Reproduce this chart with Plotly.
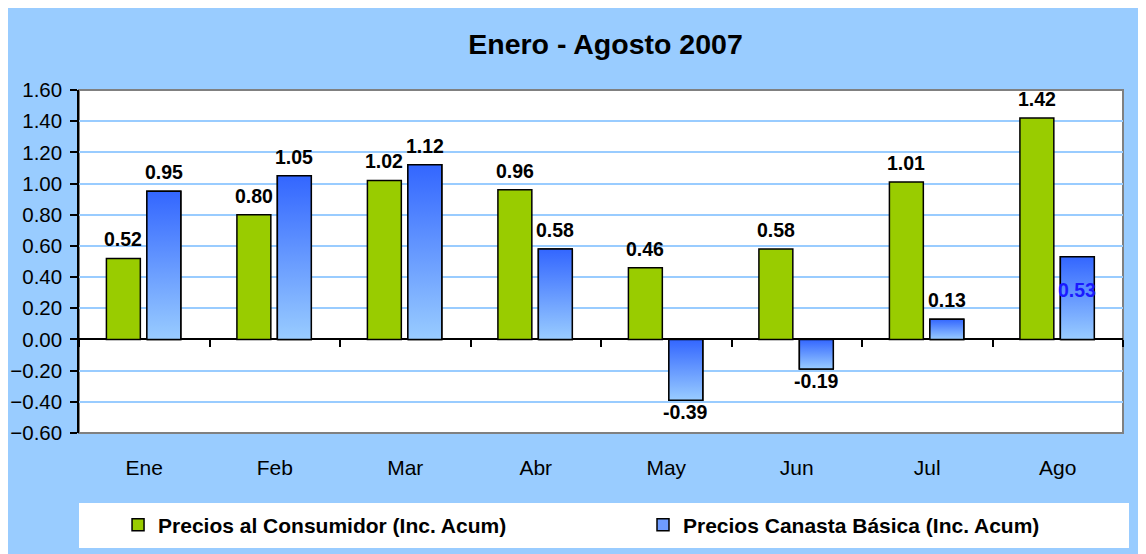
import plotly.graph_objects as go

months = ["Ene", "Feb", "Mar", "Abr", "May", "Jun", "Jul", "Ago"]
consumidor = [0.52, 0.80, 1.02, 0.96, 0.46, 0.58, 1.01, 1.42]
canasta = [0.95, 1.05, 1.12, 0.58, -0.39, -0.19, 0.13, 0.53]
name_consumidor = "Precios al Consumidor (Inc. Acum)"
name_canasta = "Precios Canasta Básica (Inc. Acum)"
title_text = "Enero - Agosto 2007"
y_ticks = [-0.6, -0.4, -0.2, 0.0, 0.2, 0.4, 0.6, 0.8, 1.0, 1.2, 1.4, 1.6]

FONT = "Liberation Sans, Arial, sans-serif"
GREEN = "#99CC00"
BLUE_DARK = "#3366FF"
BLUE_LIGHT = "#99CCFF"
BG = "#99CCFF"

W = 0.26
OFF_G = -0.29
OFF_B = 0.02

xs = list(range(len(months)))

fig = go.Figure()

fig.add_trace(go.Bar(
    x=xs, y=consumidor, name=name_consumidor, width=W, offset=OFF_G,
    marker=dict(color=GREEN, line=dict(color="black", width=1.5)),
    hoverinfo="skip", legend="legend",
))
fig.add_trace(go.Bar(
    x=xs, y=canasta, name=name_canasta, width=W, offset=OFF_B,
    marker=dict(color="#6F9CFF", line=dict(color="black", width=1.5)),
    hoverinfo="skip", legend="legend2",
))

# gradient fill for the blue bars, derived from the data
for i, v in zip(xs, canasta):
    x0, x1 = i + OFF_B, i + OFF_B + W
    fig.add_trace(go.Scatter(
        x=[x0, x1, x1, x0, x0], y=[0, 0, v, v, 0],
        mode="lines", fill="toself",
        fillgradient=dict(type="vertical",
                          colorscale=[[0, BLUE_LIGHT], [1, BLUE_DARK]]),
        line=dict(color="black", width=1.5),
        showlegend=False, hoverinfo="skip",
    ))

# data labels
annotations = []
for i, v in zip(xs, consumidor):
    annotations.append(dict(
        x=i + OFF_G + W / 2, y=v, xref="x", yref="y", text=f"{v:.2f}",
        showarrow=False, yanchor="middle", yshift=19 if v >= 0 else -14,
        font=dict(family=FONT, size=19.5, color="black", weight="bold")))
for k, (i, v) in enumerate(zip(xs, canasta)):
    last = k == len(canasta) - 1
    annotations.append(dict(
        x=i + OFF_B + W / 2, y=v, xref="x", yref="y", text=f"{v:.2f}",
        showarrow=False, yanchor="middle",
        yshift=(-33 if last else (19 if v >= 0 else -12)),
        font=dict(family=FONT, size=19.5,
                  color="#1A1AFF" if last else "black", weight="bold")))

legend_font = dict(family=FONT, size=21, color="black", weight="bold")
legend_y = (433 - 525) / 343

fig.update_layout(
    width=1146, height=554,
    margin=dict(l=71, r=31, t=82, b=129, pad=0, autoexpand=False),
    paper_bgcolor=BG, plot_bgcolor="white",
    barmode="overlay",
    title=dict(text=title_text, x=0.5043, xref="paper", xanchor="center",
               y=1 - 36 / 554, yref="container", yanchor="middle",
               font=dict(family=FONT, size=28.5, color="black", weight="bold")),
    font=dict(family=FONT, color="black"),
    xaxis=dict(range=[-0.5, 7.5], tickvals=xs, ticktext=months,
               showgrid=False, zeroline=False, showline=False, ticks="",
               ticklabelstandoff=20, fixedrange=True, automargin=False,
               tickfont=dict(family=FONT, size=21, color="black")),
    xaxis2=dict(overlaying="x", anchor="free", position=0.6 / 2.2,
                range=[-0.5, 7.5], tickvals=[k + 0.5 for k in range(-1, 8)],
                ticks="outside", ticklen=7, tickwidth=1.5, tickcolor="black",
                showticklabels=False, showgrid=False, zeroline=False,
                showline=False, side="bottom", automargin=False),
    yaxis=dict(range=[-0.6, 1.6], tickvals=y_ticks, tickformat=".2f",
               showgrid=True, gridcolor="#99CCFF", gridwidth=1.5,
               zeroline=True, zerolinecolor="black", zerolinewidth=1.5,
               showline=True, linecolor="black", linewidth=1.5,
               ticks="outside", ticklen=7, tickwidth=1.5, tickcolor="black",
               ticklabelstandoff=4, automargin=False,
               tickfont=dict(family=FONT, size=20.5, color="black")),
    legend=dict(orientation="h", x=0.0374, xanchor="left",
                y=legend_y, yanchor="middle",
                bgcolor="rgba(0,0,0,0)", font=legend_font),
    legend2=dict(orientation="h", x=(683 - 40 - 79) / 1044, xanchor="left",
                 y=legend_y, yanchor="middle",
                 bgcolor="rgba(0,0,0,0)", font=legend_font),
    annotations=annotations,
    shapes=[
        # plot frame (gray top/right/bottom)
        dict(type="rect", xref="paper", yref="paper", x0=0, x1=1, y0=0, y1=1,
             line=dict(color="#808080", width=2), layer="below"),
        # legend white box
        dict(type="rect", xref="paper", yref="paper",
             x0=0, x1=(1129 - 79) / 1044,
             y0=(433 - 548) / 343, y1=(433 - 503) / 343,
             fillcolor="white", line=dict(width=0), layer="below"),
    ],
)

# dummy trace to activate xaxis2
fig.add_trace(go.Scatter(x=[None], y=[None], xaxis="x2", showlegend=False,
                         hoverinfo="skip"))

fig.write_html("out.html")
